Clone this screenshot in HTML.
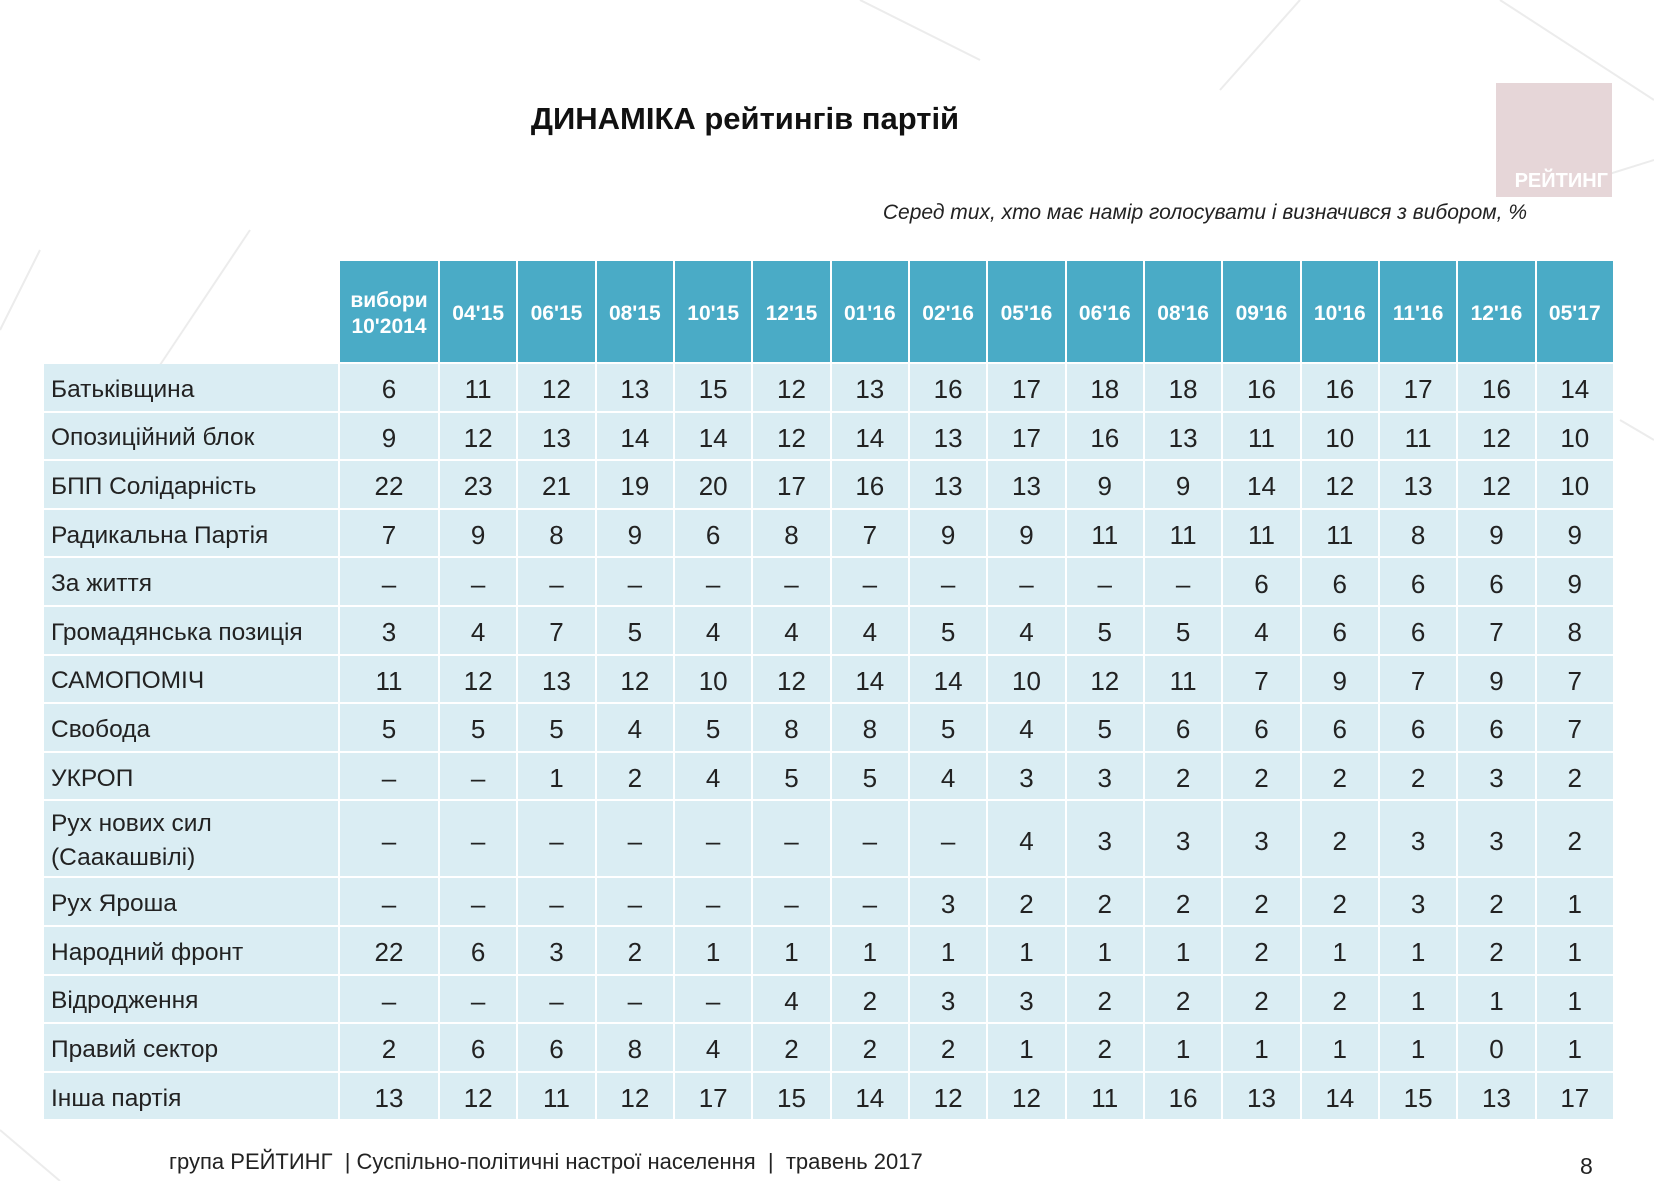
<!DOCTYPE html>
<html><head><meta charset="utf-8"><style>
body{margin:0;width:1654px;height:1181px;background:#fff;position:relative;overflow:hidden;font-family:"Liberation Sans",sans-serif}
.c{position:absolute;box-sizing:border-box;display:flex;align-items:center;justify-content:center;color:#222}
.h{background:#4aabc6;color:#fff;font-weight:bold;font-size:21px;text-align:center;line-height:26px;padding-top:4px}
.l{background:#daedf3;justify-content:flex-start;padding-left:7px;padding-top:5px;font-size:24.5px;line-height:34px}
.d{background:#daedf3;font-size:26px;padding-top:5px}
</style></head><body>
<svg width="1654" height="1181" style="position:absolute;left:0;top:0">
<g stroke="#ececec" stroke-width="2" fill="none">
<line x1="40" y1="250" x2="0" y2="330"/><line x1="250" y1="230" x2="150" y2="380"/>
<line x1="860" y1="0" x2="980" y2="60"/><line x1="1300" y1="0" x2="1220" y2="90"/>
<line x1="1500" y1="0" x2="1654" y2="100"/><line x1="1590" y1="180" x2="1654" y2="160"/>
<line x1="1620" y1="420" x2="1654" y2="440"/><line x1="0" y1="1130" x2="60" y2="1181"/>
</g></svg>
<div style="position:absolute;left:480px;top:101px;width:530px;text-align:center;font-size:31px;font-weight:bold;color:#111">ДИНАМІКА рейтингів партій</div>
<div style="position:absolute;left:1496px;top:83px;width:116px;height:114px;background:#e6d6d8"><div style="position:absolute;right:4px;bottom:4px;color:#fff;font-weight:bold;font-size:20px">РЕЙТИНГ</div></div>
<div style="position:absolute;right:127px;top:201px;font-size:21px;font-style:italic;color:#222">Серед тих, хто має намір голосувати і визначився з вибором, %</div>
<div id="tbl"></div>
<div style="position:absolute;left:169px;top:1149px;font-size:22px;color:#222">група РЕЙТИНГ &nbsp;| Суспільно-політичні настрої населення &nbsp;| &nbsp;травень 2017</div>
<div style="position:absolute;left:1580px;top:1153px;font-size:23px;color:#222">8</div>
<script>
const columns=["вибори<br>10'2014","04'15","06'15","08'15","10'15","12'15","01'16","02'16","05'16","06'16","08'16","09'16","10'16","11'16","12'16","05'17"];
const parties=["Батьківщина","Опозиційний блок","БПП Солідарність","Радикальна Партія","За життя","Громадянська позиція","САМОПОМІЧ","Свобода","УКРОП","Рух нових сил<br>(Саакашвілі)","Рух Яроша","Народний фронт","Відродження","Правий сектор","Інша партія"];
const D=null;
const r0=[6,11,12,13,15,12,13,16,17,18,18,16,16,17,16,14];
const r1=[9,12,13,14,14,12,14,13,17,16,13,11,10,11,12,10];
const r2=[22,23,21,19,20,17,16,13,13,9,9,14,12,13,12,10];
const r3=[7,9,8,9,6,8,7,9,9,11,11,11,11,8,9,9];
const r4=[D,D,D,D,D,D,D,D,D,D,D,6,6,6,6,9];
const r5=[3,4,7,5,4,4,4,5,4,5,5,4,6,6,7,8];
const r6=[11,12,13,12,10,12,14,14,10,12,11,7,9,7,9,7];
const r7=[5,5,5,4,5,8,8,5,4,5,6,6,6,6,6,7];
const r8=[D,D,1,2,4,5,5,4,3,3,2,2,2,2,3,2];
const r9=[D,D,D,D,D,D,D,D,4,3,3,3,2,3,3,2];
const r10=[D,D,D,D,D,D,D,3,2,2,2,2,2,3,2,1];
const r11=[22,6,3,2,1,1,1,1,1,1,1,2,1,1,2,1];
const r12=[D,D,D,D,D,4,2,3,3,2,2,2,2,1,1,1];
const r13=[2,6,6,8,4,2,2,2,1,2,1,1,1,1,0,1];
const r14=[13,12,11,12,17,15,14,12,12,11,16,13,14,15,13,17];
const values=[r0,r1,r2,r3,r4,r5,r6,r7,r8,r9,r10,r11,r12,r13,r14];
const T=document.getElementById('tbl');
const X0=44,LW=296,C0=100,CW=78.33,Y0=261,HH=103,RH=48.6,TALL=77,G=2;
function colX(i){return X0+LW+(i>0?C0+(i-1)*CW:0);}
function colW(i){return (i===0?C0:CW)-G;}
function mk(cls,x,y,w,h,html){const e=document.createElement('div');e.className='c '+cls;e.style.left=x+'px';e.style.top=y+'px';e.style.width=w+'px';e.style.height=h+'px';e.innerHTML=html;T.appendChild(e);return e;}
columns.forEach((c,i)=>{const e=mk('h',colX(i),Y0,colW(i),HH-G,c);

});
let y=Y0+HH;
parties.forEach((p,r)=>{const h=(p.indexOf('<br>')>=0?TALL:RH);
const l=mk('l',X0,y,LW-G,h-G,p);


values[r].forEach((v,i)=>{const e=mk('d',colX(i),y,colW(i),h-G,v===null?'–':String(v));

});
y+=h;});
</script>
</body></html>
